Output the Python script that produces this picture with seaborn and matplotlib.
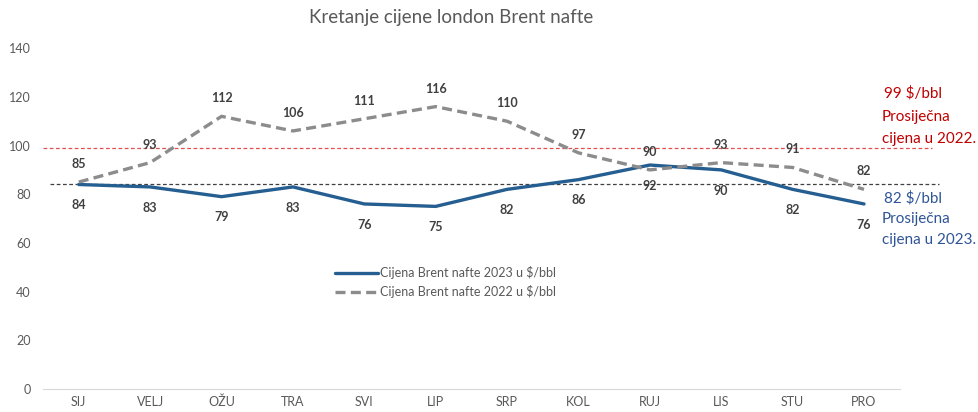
import pandas as pd
import seaborn as sns
import matplotlib.pyplot as plt

# Data
months = ["SIJ", "VELJ", "OŽU", "TRA", "SVI", "LIP", "SRP", "KOL", "RUJ", "LIS", "STU", "PRO"]
brent_2023 = [84, 83, 79, 83, 76, 75, 82, 86, 92, 90, 82, 76]
brent_2022 = [85, 93, 112, 106, 111, 116, 110, 97, 90, 93, 91, 82]
avg_2022 = 99
avg_2023 = 84  # where the dashed line sits in the picture
label_2023 = "Cijena Brent nafte 2023 u $/bbl"
label_2022 = "Cijena Brent nafte 2022 u $/bbl"

df = pd.DataFrame({"mjesec": months, "2023": brent_2023, "2022": brent_2022})
df["x"] = range(len(months))

sns.set_style("white")
plt.rcParams["font.family"] = ["Lato", "DejaVu Sans"]

fig = plt.figure(figsize=(9.79, 4.12), dpi=100)
ax = fig.add_axes([0.044, 0.056, 0.875, 0.827])

blue = "#255E91"
grey = "#8C8C8C"

sns.lineplot(data=df, x="x", y="2023", ax=ax, color=blue, linewidth=2.4,
             label=label_2023)
sns.lineplot(data=df, x="x", y="2022", ax=ax, color=grey, linewidth=2.4,
             label=label_2022, linestyle=(0, (3, 1.6)))

# average reference lines (extend a bit beyond the plot area)
ax.plot([-0.5, 11.95], [avg_2022, avg_2022], color="#E05050", linewidth=0.9,
        linestyle=(0, (3, 2)), clip_on=False, zorder=1)
ax.plot([-0.4, 12.05], [avg_2023, avg_2023], color="#404040", linewidth=0.9,
        linestyle=(0, (3, 2)), clip_on=False, zorder=1)

# data labels
for i in range(len(months)):
    ax.annotate(str(brent_2022[i]), (i, brent_2022[i]), xytext=(0, 13),
                textcoords="offset points", ha="center", va="center",
                fontsize=9, fontweight="bold", color="#404040")
    ax.annotate(str(brent_2023[i]), (i, brent_2023[i]), xytext=(0, -15),
                textcoords="offset points", ha="center", va="center",
                fontsize=9, fontweight="bold", color="#404040")

ax.set_xlim(-0.5, 11.5)
ax.set_ylim(0, 140)
ax.set_yticks(range(0, 141, 20))
ax.set_xticks(df["x"])
ax.set_xticklabels(months)
ax.set_xlabel("")
ax.set_ylabel("")
ax.tick_params(axis="both", length=0, labelsize=9, labelcolor="#595959")
ax.tick_params(axis="x", pad=5)
ax.tick_params(axis="y", pad=9)
for s in ["top", "right", "left"]:
    ax.spines[s].set_visible(False)
ax.spines["bottom"].set_color("#D9D9D9")

leg = ax.legend(loc="upper left", bbox_to_anchor=(0.335, 0.375), frameon=False,
                fontsize=9, handlelength=3.4, handletextpad=0.2,
                labelspacing=0.5, borderaxespad=0)
for t in leg.get_texts():
    t.set_color("#595959")

fig.text(451 / 979, 1 - 18 / 412, "Kretanje cijene london Brent nafte",
         ha="center", va="center", fontsize=13.5, color="#595959")

# annotations on the right
red_txt = "#C00000"
blue_txt = "#2F5597"
fig.text(884 / 979, 1 - 93 / 412, "99 $/bbl", color=red_txt, fontsize=11, va="center")
fig.text(882 / 979, 1 - 117 / 412, "Prosiječna", color=red_txt, fontsize=11, va="center")
fig.text(882 / 979, 1 - 139 / 412, "cijena u 2022.", color=red_txt, fontsize=11, va="center")
fig.text(884 / 979, 1 - 198 / 412, "82 $/bbl", color=blue_txt, fontsize=11, va="center")
fig.text(882 / 979, 1 - 219 / 412, "Prosiječna", color=blue_txt, fontsize=11, va="center")
fig.text(882 / 979, 1 - 240 / 412, "cijena u 2023.", color=blue_txt, fontsize=11, va="center")

fig.savefig("out.png", dpi=100)
